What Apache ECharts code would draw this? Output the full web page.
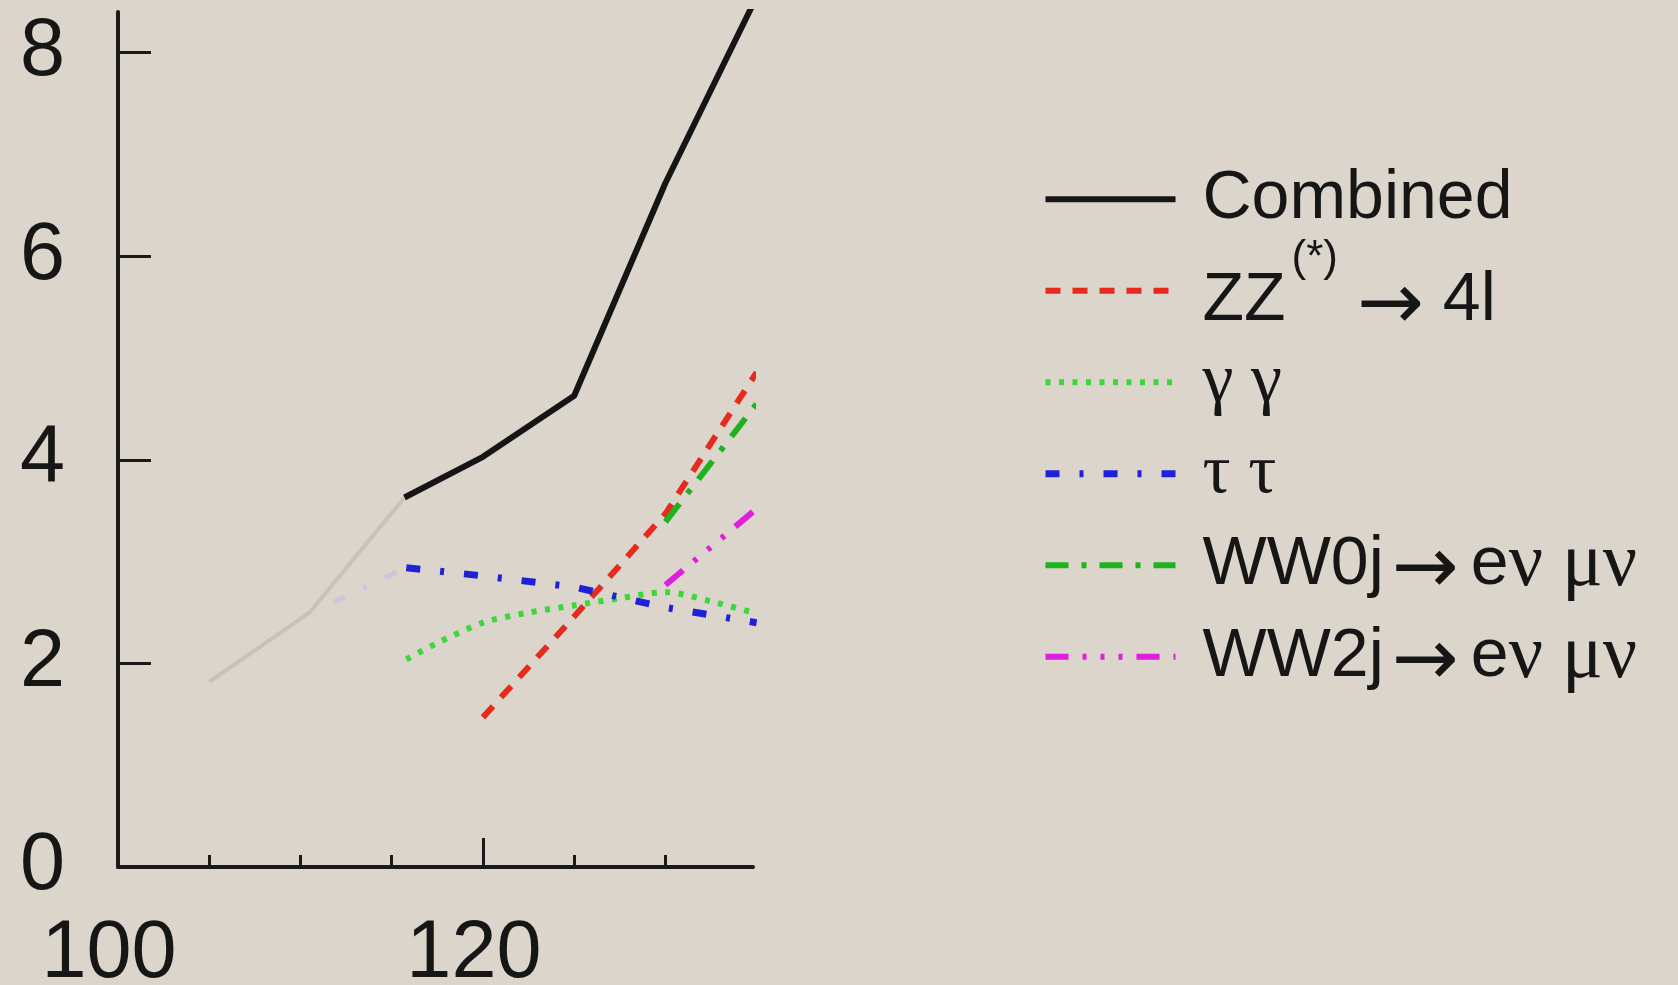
<!DOCTYPE html>
<html>
<head>
<meta charset="utf-8">
<script src="https://cdn.jsdelivr.net/npm/echarts@6/dist/echarts.min.js"></script>
<style>
html,body{margin:0;padding:0;background:#dbd5cb;}
#chart{width:1678px;height:985px;}
</style>
</head>
<body>
<div id="chart"></div>
<script>
// ---- data ----
const xMinorTicks = [105, 110, 115, 125, 130];
const xMajorTicks = [120];
const xLabels = [100, 120];
const yTicks = [2, 4, 6, 8];
const yLabels = [0, 2, 4, 6, 8];

const seriesNames = ['Combined', 'ZZ(*) → 4l', 'γ γ', 'τ τ', 'WW0j → eν μν', 'WW2j → eν μν'];

const combinedFaint = [[105, 1.82], [110.5, 2.5], [115.7, 3.63]];
const combined = [[115.7, 3.63], [120, 4.03], [125, 4.63], [130, 6.72], [135, 8.55]];
const zz4l = [[120, 1.47], [125, 2.46], [130, 3.47], [135, 4.86]];
const gammagamma = [[115.8, 2.04], [117.5, 2.2], [120, 2.40], [122.5, 2.5], [125, 2.57], [127.5, 2.64], [130, 2.70], [132.5, 2.61], [135, 2.49]];
const tautauFaint = [[111.8, 2.6], [115.8, 2.94]];
const tautau = [[115.8, 2.94], [120, 2.86], [125, 2.75], [130, 2.55], [135, 2.40]];
const ww0j = [[130, 3.39], [135, 4.55]];
const ww2j = [[130, 2.77], [135, 3.52]];

const SANS = 'Liberation Sans, Arial, Helvetica, sans-serif';
const SERIF = 'Liberation Serif, DejaVu Serif, serif';
const ARROW = 'DejaVu Sans, sans-serif';
const FS = 68;
const FG = 70;
const FN = 76;
const FA = 80;
const ROW = 91.5;
const BOX = 139.5;
const PAD = 22;
const INK = '#161616';

const chart = echarts.init(document.getElementById('chart'));

function line(name, data, color, width, dash, opts) {
  return Object.assign({
    type: 'line', name: name, data: data,
    symbol: 'none', showSymbol: false, clip: true,
    xAxisIndex: 0, yAxisIndex: 0,
    lineStyle: { color: color, width: width, type: dash, cap: 'butt', join: 'round' },
    itemStyle: { color: color },
    emphasis: { disabled: true },
    silent: true, animation: false
  }, opts || {});
}

const legendFormat = {
  'Combined': '{s0|Combined}',
  'ZZ(*) → 4l': '{zz0|ZZ}{sup|(*)}{zz| }{zar|→}{zz| 4l}',
  'γ γ': '{g0|γ γ}',
  'τ τ': '{g0|τ τ}',
  'WW0j → eν μν': '{s0|WW0j}{ar|→}{se|e}{n|ν μν}',
  'WW2j → eν μν': '{s0|WW2j}{ar|→}{se|e}{n|ν μν}'
};

const option = {
  backgroundColor: '#dbd5cb',
  animation: false,
  grid: { left: 118, right: 925, top: 12, bottom: 118, containLabel: false, outerBoundsMode: 'none' },
  xAxis: [
    {
      type: 'value', min: 100, max: 134.8, position: 'bottom',
      axisLine: { show: true, lineStyle: { color: '#1a1a1a', width: 4 } },
      axisTick: { show: true, inside: true, length: 12, lineStyle: { color: '#1a1a1a', width: 3 }, customValues: xMinorTicks },
      axisLabel: { show: true, customValues: xLabels, fontSize: 81, lineHeight: 60, fontFamily: SANS, color: INK, margin: 58, padding: [0, 18, 0, 0] },
      splitLine: { show: false }
    },
    {
      type: 'value', min: 100, max: 134.8, position: 'bottom',
      axisLine: { show: false },
      axisTick: { show: true, inside: true, length: 29, lineStyle: { color: '#1a1a1a', width: 3 }, customValues: xMajorTicks },
      axisLabel: { show: false },
      splitLine: { show: false }
    }
  ],
  yAxis: {
    type: 'value', min: 0, max: 8.4,
    axisLine: { show: true, lineStyle: { color: '#1a1a1a', width: 4 } },
    axisTick: { show: true, inside: true, length: 33, lineStyle: { color: '#1a1a1a', width: 3 }, customValues: yTicks },
    axisLabel: { show: true, customValues: yLabels, fontSize: 81, fontFamily: SANS, color: INK, margin: 53 },
    splitLine: { show: false }
  },
  legend: {
    data: seriesNames,
    orient: 'vertical',
    left: 1042, top: 199.3 - BOX / 2,
    itemWidth: 130, itemHeight: BOX, itemGap: ROW - BOX,
    selectedMode: false,
    padding: 0,
    itemStyle: { opacity: 0 },
    lineStyle: { width: 'inherit' },
    formatter: function (name) { return legendFormat[name] || name; },
    textStyle: {
      color: INK, fontFamily: SANS, fontSize: FS, lineHeight: BOX,
      rich: {
        s0: { fontFamily: SANS, fontSize: FS, lineHeight: BOX, color: INK, padding: [0, 0, 0, PAD] },
        se: { fontFamily: SANS, fontSize: FS, lineHeight: BOX, color: INK, padding: [0, 0, 0, 12] },
        g0: { fontFamily: SERIF, fontSize: FG, lineHeight: BOX, color: INK, padding: [0, 0, 0, PAD] },
        n: { fontFamily: SERIF, fontSize: FN, lineHeight: BOX, color: INK },
        ar: { fontFamily: ARROW, fontSize: FA, lineHeight: BOX, color: INK, padding: [14, 0, 0, 8] },
        zz0: { fontFamily: SANS, fontSize: FS, height: BOX - 20, lineHeight: BOX, verticalAlign: 'bottom', color: INK, padding: [0, 0, 0, PAD] },
        zz: { fontFamily: SANS, fontSize: FS, height: BOX - 20, lineHeight: BOX, verticalAlign: 'bottom', color: INK },
        zar: { fontFamily: ARROW, fontSize: FA, height: BOX - 34, lineHeight: BOX, verticalAlign: 'bottom', color: INK, padding: [14, 0, 0, 0] },
        sup: { fontFamily: SANS, fontSize: 44, height: BOX - 64, lineHeight: BOX, verticalAlign: 'top', color: INK, padding: [0, 0, 0, 6] }
      }
    }
  },
  series: [
    line('Combined (faint)', combinedFaint, '#c7c2ba', 4, 'solid'),
    line('τ τ (faint)', tautauFaint, '#cdc6da', 5, [13, 20, 4, 20]),
    line(seriesNames[0], combined, '#151515', 6, 'solid'),
    line(seriesNames[1], zz4l, '#e62b1e', 6, [15, 12]),
    line(seriesNames[2], gammagamma, '#3ad83a', 6, [5, 8.5], { smooth: 0.3 }),
    line(seriesNames[3], tautau, '#2020d8', 7, [14, 20, 4, 20]),
    line(seriesNames[4], ww0j, '#1fb21f', 6, [23, 13, 5, 13]),
    line(seriesNames[5], ww2j, '#e01ee0', 6, [23, 14, 4, 14, 4, 14, 4, 14])
  ]
};
chart.setOption(option);
</script>
</body>
</html>
